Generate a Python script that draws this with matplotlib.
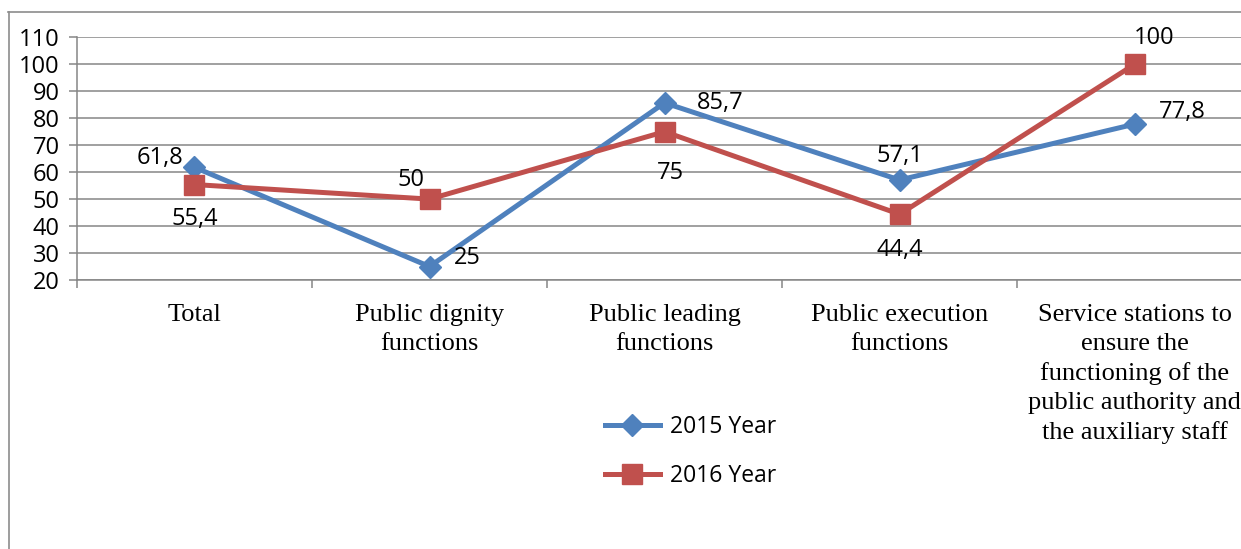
import matplotlib.pyplot as plt
from matplotlib.lines import Line2D

categories = [
    "Total",
    "Public dignity\nfunctions",
    "Public leading\nfunctions",
    "Public execution\nfunctions",
    "Service stations to\nensure the\nfunctioning of the\npublic authority and\nthe auxiliary staff",
]
values_2015 = [61.8, 25, 85.7, 57.1, 77.8]
values_2016 = [55.4, 50, 75, 44.4, 100]
labels_2015 = ["61,8", "25", "85,7", "57,1", "77,8"]
labels_2016 = ["55,4", "50", "75", "44,4", "100"]
yticks = list(range(20, 111, 10))

blue = "#4F81BD"
red = "#C0504D"
grid = "#868686"
sans = "Open Sans"
serif = "Liberation Serif"

fig = plt.figure(figsize=(12.41, 5.49), dpi=100)
ax = fig.add_axes([0.062, 0.490, 0.947, 0.442])

x = list(range(len(categories)))
ax.plot(x, values_2015, color=blue, lw=3.6, marker="D", ms=11,
        solid_joinstyle="miter", label="2015 Year", zorder=3)
ax.plot(x, values_2016, color=red, lw=3.6, marker="s", ms=14,
        label="2016 Year", zorder=3)

# label offsets in points (dx, dy)
off_2015 = [(-25, 7), (27, 6), (40, 0), (0, 17), (34, 9)]
off_2016 = [(0, -25), (-13, 14), (4, -30), (0, -26), (14, 19)]
for xi, v, s, o in zip(x, values_2015, labels_2015, off_2015):
    ax.annotate(s, (xi, v), xytext=o, textcoords="offset points",
                ha="center", va="center", fontsize=17, family=sans)
for xi, v, s, o in zip(x, values_2016, labels_2016, off_2016):
    ax.annotate(s, (xi, v), xytext=o, textcoords="offset points",
                ha="center", va="center", fontsize=17, family=sans)

ax.set_xlim(-0.5, 4.5)
ax.set_ylim(20, 110)
ax.set_yticks(yticks)
ax.set_yticklabels([str(t) for t in yticks], family=sans, fontsize=17)
ax.set_xticks(x)
ax.set_xticklabels(categories, family=serif, fontsize=19, linespacing=1.39, va="top")
ax.set_xticks([i - 0.5 for i in range(len(categories) + 1)], minor=True)
ax.tick_params(axis="x", which="major", length=0, pad=17.5)
ax.tick_params(axis="x", which="minor", length=6, width=1.1, color=grid)
ax.tick_params(axis="y", length=6, width=1.1, color=grid, pad=6.5)

ax.grid(axis="y", color=grid, lw=1.1)
ax.set_axisbelow(True)
for side in ["top", "right"]:
    ax.spines[side].set_visible(False)
for side in ["left", "bottom"]:
    ax.spines[side].set_color(grid)
    ax.spines[side].set_linewidth(1.1)

fig.legend(loc="center left", bbox_to_anchor=(0.4875, 0.1775), frameon=False,
           prop={"family": sans, "size": 16.5}, handlelength=2.4,
           handletextpad=0.45, labelspacing=1.12, borderpad=0, borderaxespad=0)

# outer chart frame (left and top edges visible)
fig.add_artist(Line2D([8.5 / 1241, 8.5 / 1241], [0, 537 / 549], color="#8c8c8c", lw=1.2))
fig.add_artist(Line2D([8 / 1241, 1], [537 / 549, 537 / 549], color="#8c8c8c", lw=1.2))

fig.savefig("out.png", dpi=100)
